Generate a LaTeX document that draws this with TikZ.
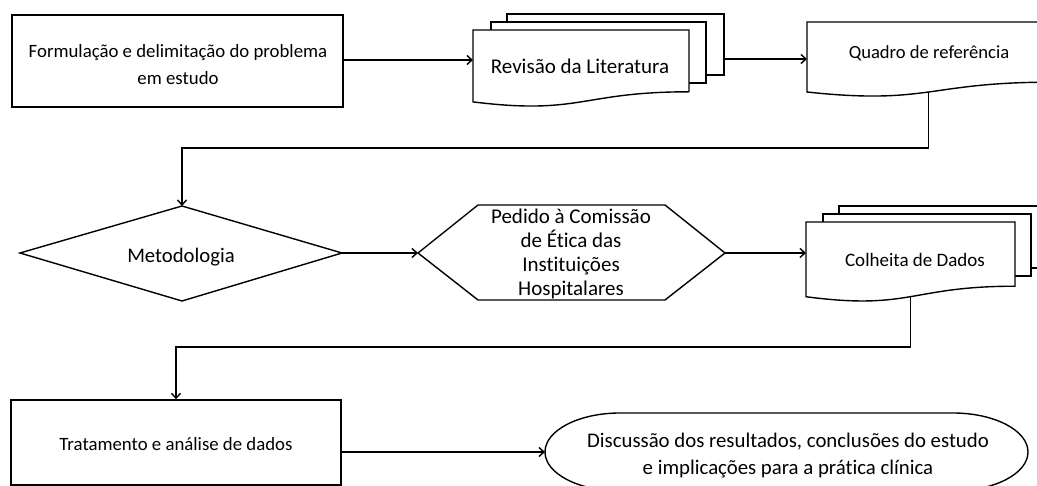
\documentclass[tikz,border=0pt]{standalone}
\usepackage{fontspec}
\setmainfont{Carlito}[Ligatures=NoCommon]
\usetikzlibrary{arrows.meta}
\newcommand{\setfs}[2]{\fontsize{#1pt}{#2pt}\selectfont}
\begin{document}
\begin{tikzpicture}[x=1pt,y=-1pt, line width=1.4pt, line join=miter,
  shp/.style={draw=black, fill=white},
  conn/.style={draw=black, -{Straight Barb[length=5pt,width=9pt]}},
  lbl/.style={inner sep=0pt, align=center, text=black}]
\useasboundingbox (0,0) rectangle (1037,486);

% --- Box 1: Formulacao
\node[shp, minimum width=331pt, minimum height=92pt, inner sep=0pt] (b1) at (177.5,61) {};
\node[lbl, font=\setfs{18.8}{27}] (t1) at (178,64.5) {Formulação e delimitação do problema\\em estudo};

% --- Revisao (multi-document)
\path[shp] (507,22) -- (507,14) -- (724,14) -- (724,75) -- (706,75);
\path[shp] (491,30) -- (491,22) -- (706,22) -- (706,83) -- (689,83);
\path[shp] (473,30) -- (689,30) -- (689,91.8)
  .. controls (581,91.8) and (581,115.3) .. (473,101.9) -- cycle;
\node[lbl, anchor=base, font=\setfs{21}{25}] (t2) at (580,74) {Revisão da Literatura};
\coordinate (rev-in) at (473,60);
\coordinate (rev-out) at (724,59);

% --- Quadro de referencia (document)
\path[shp] (807,22) -- (1050,22) -- (1050,82.2)
  .. controls (928.5,82.2) and (928.5,105.1) .. (807,92) -- cycle;
\node[lbl, anchor=base, font=\setfs{18.6}{23}] (t3) at (929,59) {Quadro de referência};
\coordinate (qua-in) at (807,59);
\coordinate (qua-out) at (928.5,92);

% --- Metodologia (diamond)
\path[shp] (20,253) -- (182,206) -- (342,253) -- (182,301) -- cycle;
\node[lbl, anchor=base, font=\setfs{20.7}{25}] (t4) at (181,263) {Metodologia};
\coordinate (met-top) at (182,206);
\coordinate (met-out) at (342,253);

% --- Pedido (hexagon)
\path[shp] (418,253) -- (478,205) -- (665,205) -- (725,253) -- (665,300) -- (478,300) -- cycle;
\node[lbl, font=\setfs{21}{24}] (t5) at (571,253.5) {Pedido à Comissão\\de Ética das\\Instituições\\Hospitalares};
\coordinate (ped-in) at (418,253);
\coordinate (ped-out) at (725,253);

% --- Colheita de Dados (multi-document)
\path[shp] (839,214) -- (839,206) -- (1047,206) -- (1047,268) -- (1031,268);
\path[shp] (823,222) -- (823,214) -- (1031,214) -- (1031,276) -- (1015,276);
\path[shp] (806,222) -- (1015,222) -- (1015,286.2)
  .. controls (910.5,286.2) and (910.5,310.6) .. (806,296.7) -- cycle;
\node[lbl, anchor=base, font=\setfs{19}{23}] (t6) at (915,267) {Colheita de Dados};
\coordinate (col-in) at (806,253);
\coordinate (col-out) at (910.5,296.7);

% --- Tratamento (box)
\node[shp, minimum width=330pt, minimum height=85pt, inner sep=0pt] (b7) at (176,442.5) {};
\node[lbl, anchor=base, font=\setfs{18.8}{23}] (t7) at (176,450) {Tratamento e análise de dados};

% --- Discussao (terminator)
\path[shp] (620,413) -- (953,413) arc[start angle=-90, end angle=90, x radius=75, y radius=39]
  -- (620,491) arc[start angle=90, end angle=270, x radius=75, y radius=39] -- cycle;
\node[lbl, font=\setfs{20.8}{27}] (t8) at (788,456) {Discussão dos resultados, conclusões do estudo\\e implicações para a prática clínica};
\coordinate (dis-in) at (545,452);

% --- connectors
\coordinate (c1) at (929,148);
\coordinate (c2) at (182,148);
\coordinate (c3) at (911,347);
\coordinate (c4) at (176,347);
\draw[conn] (b1.east |- rev-in) -- (rev-in);
\draw[conn] (rev-out) -- (qua-in);
\draw[conn] (qua-out) -- (qua-out |- c1) -- (c2) -- (met-top);
\draw[conn] (met-out) -- (ped-in);
\draw[conn] (ped-out) -- (col-in);
\draw[conn] (col-out) -- (col-out |- c3) -- (c4) -- (b7.north);
\draw[conn] (b7.east |- dis-in) -- (dis-in);
\end{tikzpicture}
\end{document}
